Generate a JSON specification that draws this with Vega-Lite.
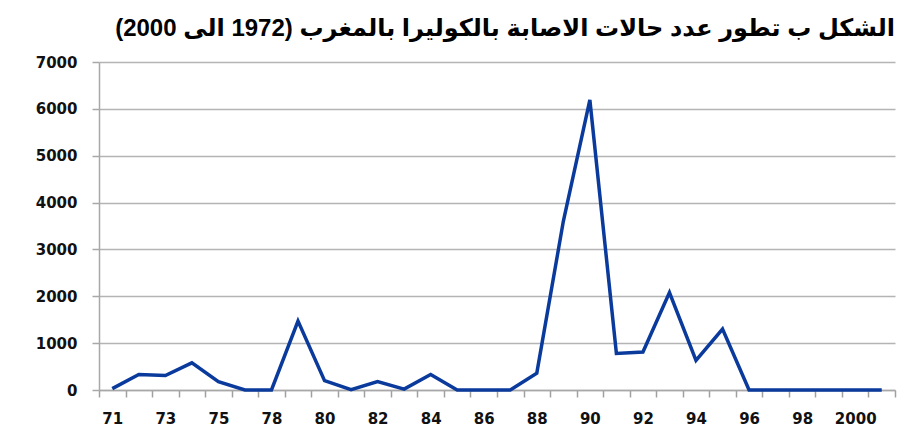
{
  "$schema": "https://vega.github.io/schema/vega-lite/v6.json",
  "autosize": "none",
  "width": 796,
  "height": 328,
  "padding": {"left": 99, "top": 62, "right": 12, "bottom": 58},
  "background": "white",
  "title": {
    "text": "\u200fالشكل ب  تطور عدد حالات الاصابة بالكوليرا بالمغرب (1972 الى 2000)\u200f",
    "anchor": "end",
    "frame": "group",
    "font": "Liberation Sans, DejaVu Sans",
    "fontSize": 24,
    "fontWeight": "bold",
    "color": "#000000",
    "offset": 14
  },
  "data": {
    "values": [
      {"annee": "71", "cas": 30},
      {"annee": "72", "cas": 330},
      {"annee": "73", "cas": 310},
      {"annee": "74", "cas": 580},
      {"annee": "75", "cas": 180},
      {"annee": "76", "cas": 0},
      {"annee": "78", "cas": 0},
      {"annee": "79", "cas": 1470},
      {"annee": "80", "cas": 200},
      {"annee": "81", "cas": 5},
      {"annee": "82", "cas": 180},
      {"annee": "83", "cas": 20},
      {"annee": "84", "cas": 330},
      {"annee": "85", "cas": 0},
      {"annee": "86", "cas": 0},
      {"annee": "87", "cas": 0},
      {"annee": "88", "cas": 360},
      {"annee": "89", "cas": 3600},
      {"annee": "90", "cas": 6190},
      {"annee": "91", "cas": 780},
      {"annee": "92", "cas": 810},
      {"annee": "93", "cas": 2080},
      {"annee": "94", "cas": 630},
      {"annee": "95", "cas": 1300},
      {"annee": "96", "cas": 0},
      {"annee": "97", "cas": 0},
      {"annee": "98", "cas": 0},
      {"annee": "99", "cas": 0},
      {"annee": "2000", "cas": 0},
      {"annee": "2001", "cas": 0}
    ]
  },
  "mark": {"type": "line", "color": "#0a3a9c", "strokeWidth": 3.5, "strokeJoin": "miter"},
  "encoding": {
    "x": {
      "field": "annee",
      "type": "ordinal",
      "sort": null,
      "bandPosition": 0.5,
      "scale": {"type": "band", "paddingInner": 0, "paddingOuter": 0},
      "axis": {
        "title": null,
        "labelAngle": 0,
        "tickBand": "extent",
        "labelExpr": "indexof(['71','73','75','78','80','82','84','86','88','90','92','94','96','98','2000'], datum.value) >= 0 ? datum.value : ''",
        "labelFont": "DejaVu Sans",
        "labelFontSize": 15,
        "labelFontWeight": "bold",
        "labelColor": "#111111",
        "labelPadding": 14,
        "tickSize": 7,
        "tickColor": "#a0a0a0",
        "tickWidth": 1.5,
        "domainColor": "#a8a8a8",
        "domainWidth": 1.5,
        "grid": false
      }
    },
    "y": {
      "field": "cas",
      "type": "quantitative",
      "scale": {"domain": [0, 7000], "nice": false},
      "axis": {
        "title": null,
        "values": [0, 1000, 2000, 3000, 4000, 5000, 6000, 7000],
        "format": "d",
        "labelFont": "DejaVu Sans",
        "labelFontSize": 15,
        "labelFontWeight": "bold",
        "labelColor": "#111111",
        "labelPadding": 15,
        "tickSize": 7,
        "tickColor": "#a8a8a8",
        "tickWidth": 1.5,
        "domainColor": "#a8a8a8",
        "domainWidth": 1.5,
        "grid": true,
        "gridColor": "#b4b4b4",
        "gridWidth": 1.5
      }
    }
  },
  "config": {"view": {"stroke": null}}
}
